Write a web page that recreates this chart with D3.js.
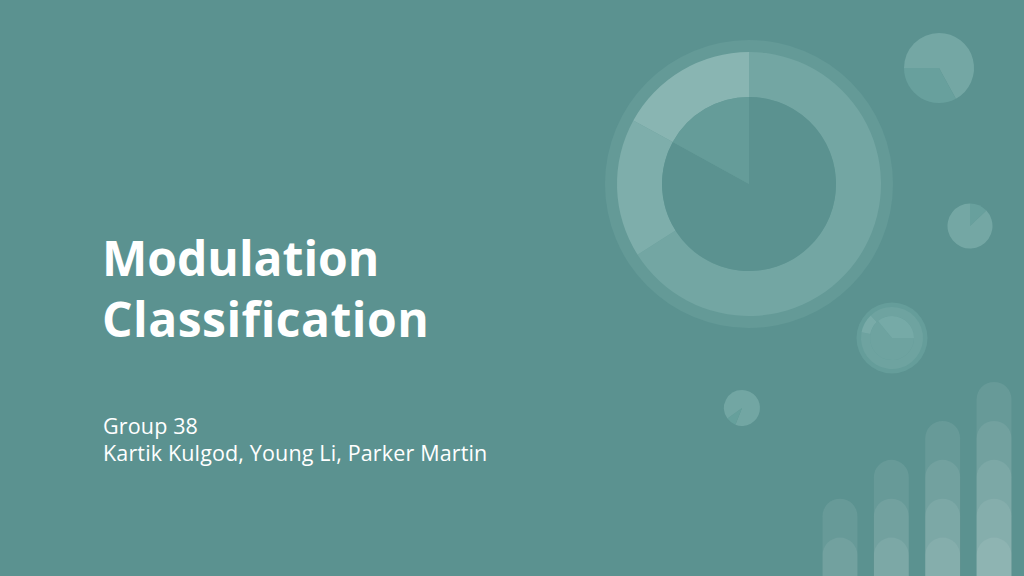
<!DOCTYPE html>
<meta charset="utf-8">
<html lang="en">
<head>
    <title>Modulation Classification</title>
    <script src="https://d3js.org/d3.v7.min.js"></script>
    <style>
        html, body { margin: 0; padding: 0; background: #5b9290; }
        svg { display: block; }
    </style>
</head>
<body>
    <div id="slide"></div>
    <script>
        const width = 1024,
            height = 576;

        // title texts
        const titleLines = ["Modulation", "Classification"];
        const subLines = ["Group 38", "Kartik Kulgod, Young Li, Parker Martin"];

        // big donut: ring slices (clockwise from 12 o'clock) and inner core slices
        const bigRing = [66, 17, 17];
        const bigCore = [83, 17];

        // small pies, slices clockwise from 12 o'clock
        const pieTopRight = [42, 33, 25];
        const pieMidRight = [13, 87];
        const pieTiny = [56, 9, 35];
        const smallRing = [78, 10, 12];
        const smallCore = [25, 64, 11];

        // bar columns: how many stacked pills in each
        const barCols = ["a", "b", "c", "d"];
        const barCounts = [2, 3, 4, 5];

        const bg = "#5b9290";

        let svg = d3.select("#slide")
            .append("svg")
            .attr("width", width)
            .attr("height", height);

        svg.append("rect")
            .attr("width", width)
            .attr("height", height)
            .attr("fill", bg);

        let pie = d3.pie().sort(null).value((d) => d);

        // draws a pie (or donut) at cx,cy with a color for each slice
        function drawPie(cx, cy, values, inner, outer, colors) {
            let g = svg.append("g").attr("transform", `translate(${cx},${cy})`);
            let arc = d3.arc().innerRadius(inner).outerRadius(outer);
            g.selectAll("path")
                .data(pie(values))
                .enter()
                .append("path")
                .attr("d", arc)
                .attr("fill", (d, i) => colors[i]);
            return g;
        }

        function halo(cx, cy, r, color) {
            svg.append("circle")
                .attr("cx", cx).attr("cy", cy).attr("r", r)
                .attr("fill", color);
        }

        // big donut
        halo(749, 184, 144, "#649a97");
        drawPie(749, 184, bigRing, 87, 132, ["#73a6a3", "#7eaeab", "#89b5b2"]);
        drawPie(749, 184, bigCore, 0, 87, ["#5b9290", "#659c99"]);

        // top right pie
        drawPie(939, 68, pieTopRight, 0, 35, ["#74a7a4", "#68a09d", "#74a7a4"]);

        // middle right pie
        drawPie(970, 226, pieMidRight, 0, 22.5, ["#68a09d", "#74a7a4"]);

        // small donut
        halo(892, 338, 35.5, "#659d9a");
        drawPie(892, 338, smallRing, 22, 31, ["#6ea3a0", "#79aba8", "#6ea3a0"]);
        drawPie(892, 338, smallCore, 0, 22, ["#76aaa7", "#6ea3a0", "#76aaa7"]);

        // tiny pie
        drawPie(742, 408, pieTiny, 0, 18, ["#72a6a3", "#66a09c", "#72a6a3"]);

        // stacked pill bars
        let x = d3.scaleBand()
            .domain(barCols)
            .range([822.5, 1011.5])
            .paddingInner(0.32)
            .paddingOuter(0);

        let y = d3.scaleLinear()
            .domain([0, 5])
            .range([576, 381.5]);

        let pills = [];
        barCols.forEach((c, i) => {
            for (let k = 1; k <= barCounts[i]; k++) {
                pills.push({ col: c, level: k });
            }
        });

        svg.append("g")
            .selectAll("rect")
            .data(pills)
            .enter()
            .append("rect")
            .attr("x", (d) => x(d.col))
            .attr("y", (d) => y(d.level) + 0.5)
            .attr("width", x.bandwidth())
            .attr("height", (d) => height - y(d.level) + 40)
            .attr("rx", x.bandwidth() / 2)
            .attr("fill", "white")
            .attr("fill-opacity", 0.075);

        // title
        svg.append("g")
            .selectAll("text")
            .data(titleLines)
            .enter()
            .append("text")
            .attr("x", 102)
            .attr("y", (d, i) => 276 + i * 61)
            .attr("fill", "white")
            .attr("font-family", "'Open Sans', sans-serif")
            .attr("font-weight", 700)
            .attr("font-size", 48)
            .attr("letter-spacing", (d, i) => i === 1 ? 0.5 : 0)
            .text((d) => d);

        svg.append("g")
            .selectAll("text")
            .data(subLines)
            .enter()
            .append("text")
            .attr("x", 103)
            .attr("y", (d, i) => 434 + i * 27)
            .attr("fill", "white")
            .attr("font-family", "'Open Sans', sans-serif")
            .attr("font-size", 21.5)
            .attr("letter-spacing", 0.15)
            .text((d) => d);
    </script>
</body>
</html>
